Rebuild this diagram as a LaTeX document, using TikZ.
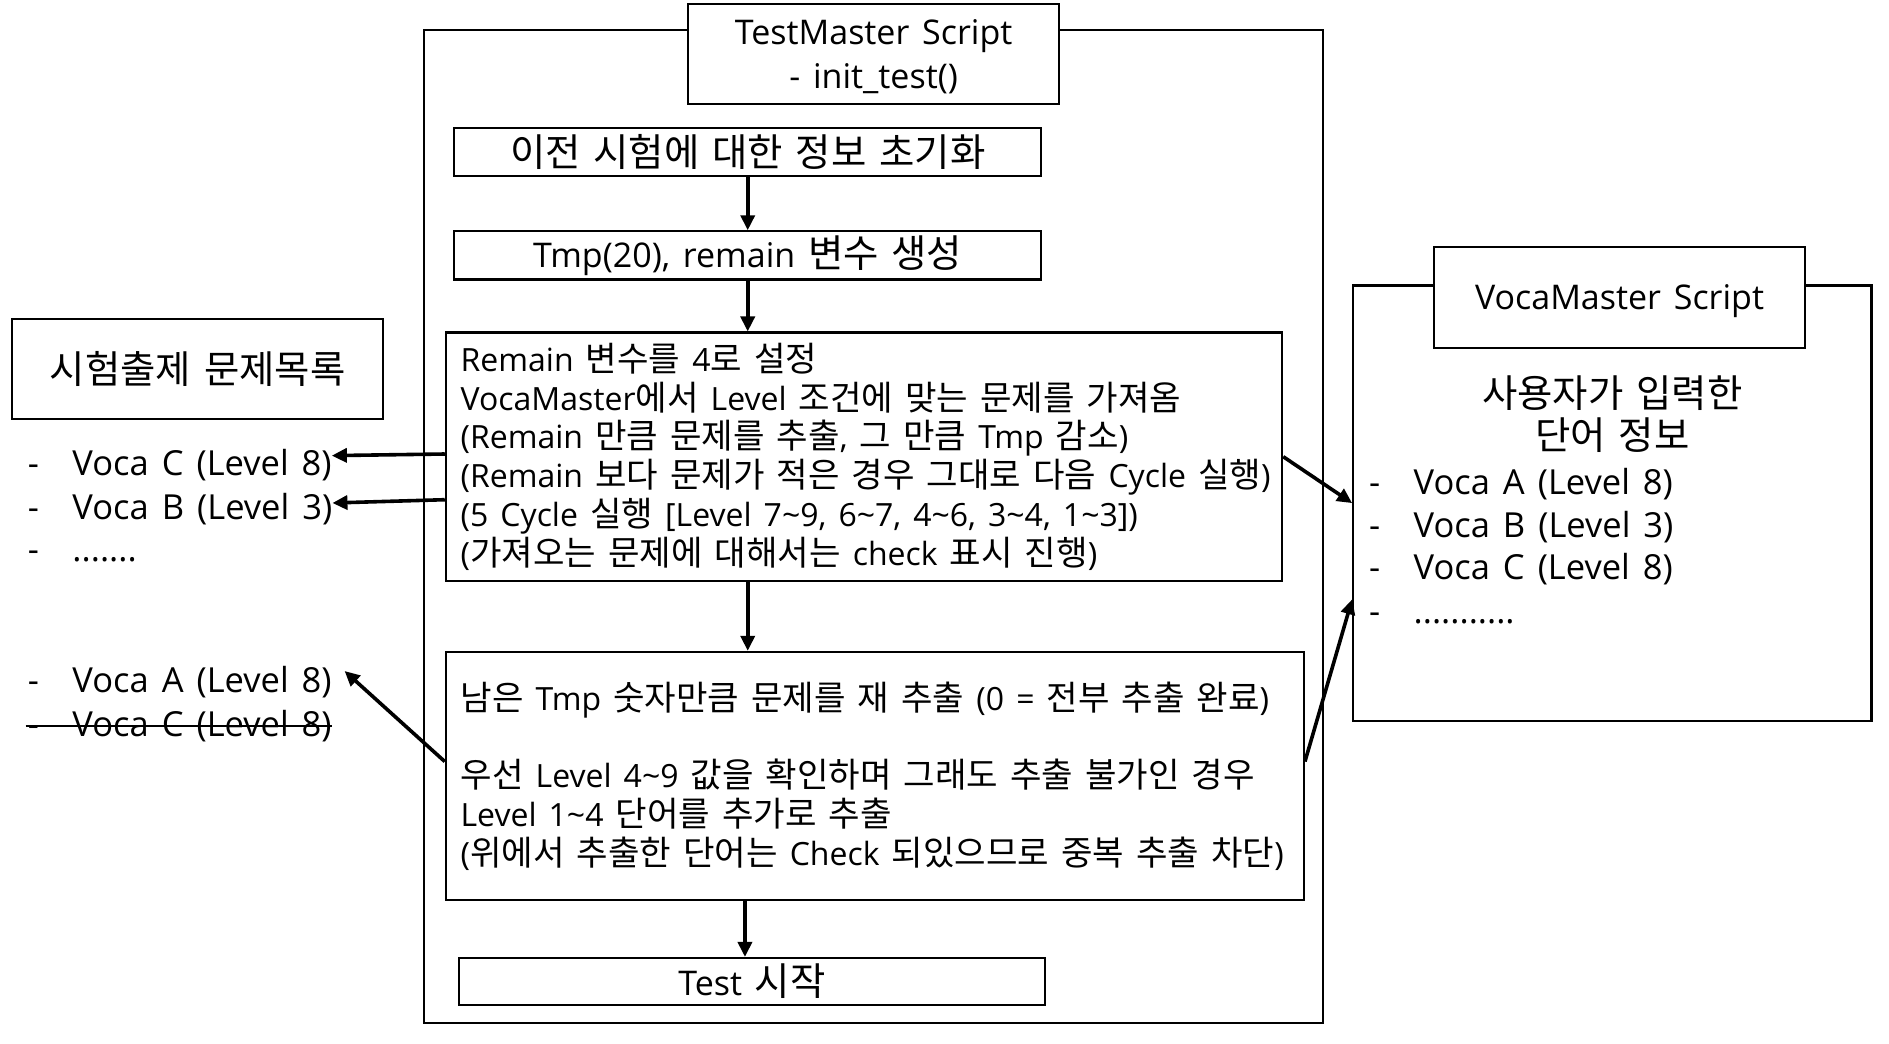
\documentclass[tikz,border=0pt]{standalone}
\usepackage{fontspec}
\setmainfont{Open Sans}[WordSpace=1.45]
\newfontfamily\latinfont{Open Sans}[WordSpace=1.45]
\newfontfamily\krA{Noto Sans CJK KR}[Scale=1.07]
\newfontfamily\krB{Noto Sans CJK KR}[Scale=1.13]
\let\krsel\krA
\usetikzlibrary{arrows.meta}
\newXeTeXintercharclass\KRclass
\newcount\krcnt
\krcnt="AC00
\loop
\XeTeXcharclass\krcnt=\KRclass
\ifnum\krcnt<"D7A3 \advance\krcnt by 1 \repeat
\XeTeXinterchartoks 0 \KRclass = {\krsel}
\XeTeXinterchartoks 4095 \KRclass = {\krsel}
\XeTeXinterchartoks \KRclass 0 = {\latinfont}
\XeTeXinterchartoks \KRclass 4095 = {\latinfont}
\XeTeXinterchartokenstate=1
\def\uu{1.205pt}
\newcommand{\dsh}{\makebox[44.6pt][l]{-}}
\newcommand{\tl}{\textasciitilde}
\begin{document}
\begin{tikzpicture}[x=1.205pt, y=-1.205pt,
  box/.style={draw, line width=2.2pt, inner sep=0pt},
  arr/.style={line width=3.6pt, -{Triangle[length=15pt,width=14pt]}},
  ttl/.style={font={\let\krsel\krB\fontsize{34}{43.6}\selectfont}},
  body/.style={font={\let\krsel\krA\fontsize{32}{38.7}\selectfont}, align=left, inner sep=0pt},
  item/.style={font=\fontsize{34.5}{43.6}\selectfont, inner sep=0pt, anchor=base west}]
\useasboundingbox (0,0) rectangle (1567.6,865.6);
% main TestMaster frame
\node[box, minimum width=746*\uu, minimum height=824*\uu] (main) at (725,437) {};
\node[box, fill=white, minimum width=308*\uu, minimum height=83*\uu] (head1) at (725,44.5) {};
\node[ttl, align=center, inner sep=0pt] (h1t) at (725,47) {TestMaster Script\\- init\_test()};
\node[box, ttl, minimum width=487*\uu, minimum height=40*\uu] (b1) at (620.5,126) {이전 시험에 대한 정보 초기화};
\node[box, ttl, minimum width=487*\uu, minimum height=40*\uu] (b2) at (620.5,212) {Tmp(20), remain 변수 생성};
\node[box, minimum width=694*\uu, minimum height=206*\uu] (b3) at (717,379) {};
\node[body, anchor=west] (t3) at ([xshift=13*\uu]b3.west) {Remain 변수를 4로 설정\\VocaMaster에서 Level 조건에 맞는 문제를 가져옴\\(Remain 만큼 문제를 추출, 그 만큼 Tmp 감소)\\(Remain 보다 문제가 적은 경우 그대로 다음 Cycle 실행)\\(5 Cycle 실행 [Level 7\tl9, 6\tl7, 4\tl6, 3\tl4, 1\tl3])\\(가져오는 문제에 대해서는 check 표시 진행)};
\node[box, minimum width=712*\uu, minimum height=206*\uu] (b4) at (726,644) {};
\node[body, anchor=west] (t4) at ([xshift=13*\uu]b4.west) {남은 Tmp 숫자만큼 문제를 재 추출 (0 = 전부 추출 완료)\\\mbox{}\\우선 Level 4\tl9 값을 확인하며 그래도 추출 불가인 경우\\Level 1\tl4 단어를 추가로 추출\\(위에서 추출한 단어는 Check 되있으므로 중복 추출 차단)};
\node[box, ttl, minimum width=486*\uu, minimum height=39*\uu] (b5) at (624,814.5) {Test 시작};
% left list
\node[box, ttl, minimum width=308*\uu, minimum height=83*\uu] (lbox) at (164,306.5) {시험출제 문제목록};
\node[item] (lC) at (23,395) {\dsh Voca C (Level 8)};
\node[item] (lB) at (23,431) {\dsh Voca B (Level 3)};
\node[item] (lD) at (23,466) {\dsh .......};
\node[item] (lA) at (23,575) {\dsh Voca A (Level 8)};
\node[item] (lS) at (23,611) {\dsh Voca C (Level 8)};
\draw[line width=1.6pt] ([xshift=-2pt]lS.west) -- (lS.east);
% right VocaMaster frame
\node[box, minimum width=430*\uu, minimum height=361*\uu] (rmain) at (1338,417.5) {};
\node[box, fill=white, minimum width=308*\uu, minimum height=84*\uu] (head2) at (1344,247) {};
\node[ttl, inner sep=0pt] (h2t) at (1344,250) {VocaMaster Script};
\node[ttl, align=center, font={\let\krsel\krB\fontsize{34}{42.4}\selectfont}] (rinfo) at (1338,343.5) {사용자가 입력한\\단어 정보};
\node[item] (rA) at (1136,410) {\dsh Voca A (Level 8)};
\node[item] (rB) at (1136,446) {\dsh Voca B (Level 3)};
\node[item] (rC) at (1136,481) {\dsh Voca C (Level 8)};
\node[item] (rD) at (1136,517) {\dsh ...........};
% vertical flow arrows
\draw[arr] (b1.south) -- (b2.north);
\draw[arr] (b2.south) -- (b2.south |- b3.north);
\draw[arr] (b2.south |- b3.south) -- (b2.south |- b4.north);
\draw[arr] ([xshift=-7pt]b5.north |- b4.south) -- ([xshift=-7pt]b5.north);
% side arrows
\draw[arr] ([yshift=2.7pt]b3.west) -- ([yshift=10pt]lC.east);
\draw[arr] ([yshift=-43pt]b3.west) -- ([yshift=6pt]lB.east);
\draw[arr] ([yshift=14.5pt]b4.west) -- ([xshift=12.7pt,yshift=11.5pt]lA.east);
\draw[arr] (b3.east) -- (rmain.west);
\draw[arr] ([yshift=14.5pt]b4.east) -- ([yshift=-96.2pt]rmain.west);
\end{tikzpicture}
\end{document}
